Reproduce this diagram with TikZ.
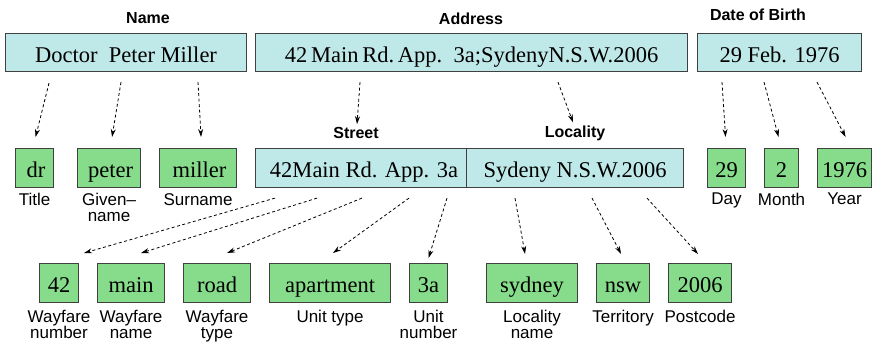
\documentclass[tikz,border=0pt]{standalone}
\usepackage{fontspec}
\setmainfont{Liberation Serif}
\setsansfont{Liberation Sans}
\usetikzlibrary{arrows.meta}
\definecolor{cyanbox}{HTML}{BFE9E8}
\definecolor{greenbox}{HTML}{86DC8A}
\definecolor{edgegray}{HTML}{404040}
\begin{document}
\begin{tikzpicture}[x=1pt,y=-1pt,
  box/.style={draw=edgegray, line width=1.1pt, anchor=north west, inner sep=0pt,
    minimum height=38pt, text height=19pt, text depth=0pt,
    font=\fontsize{22.5}{24}\selectfont},
  cbox/.style={box, fill=cyanbox},
  gbox/.style={box, fill=greenbox, minimum height=39pt},
  ttl/.style={font=\sffamily\bfseries\fontsize{16}{18}\selectfont, inner sep=0pt},
  lbl/.style={font=\sffamily\fontsize{17}{16}\selectfont, inner sep=0pt, anchor=north, align=center},
  arr/.style={line width=0.8pt, dash pattern=on 3pt off 2.5pt, -{Stealth[length=8pt,width=5pt]}}
]
\useasboundingbox (0,0) rectangle (874,345);
% top row
\node[cbox, minimum width=241pt] (name) at (5,33) {Doctor\ \ Peter Miller};
\node[cbox, minimum width=432pt] (address) at (255,33) {42\,Main\,Rd.\,App.\ \ 3a;SydenyN.S.W.2006};
\node[cbox, minimum width=164pt] (date) at (697,33) {29 Feb. 1976};
\node[ttl] (tname) at (148,18) {Name};
\node[ttl] (taddress) at (471,19) {Address};
\node[ttl] (tdate) at (758,15) {Date of Birth};
% middle row
\node[cbox, minimum width=211pt, minimum height=39pt] (street) at (255,148) {\hspace{6pt}42Main Rd. App. 3a};
\node[cbox, minimum width=217pt, minimum height=39pt] (locality) at (466,148) {Sydeny N.S.W.2006};
\node[ttl] (tstreet) at (356,133) {Street};
\node[ttl] (tlocality) at (575,133) {Locality};
\node[gbox, minimum width=38pt] (dr) at (15,148) {\hspace{3pt}dr};
\node[gbox, minimum width=63pt] (peter) at (77,148) {\hspace{3pt}peter};
\node[gbox, minimum width=77pt] (miller) at (159,148) {\hspace{3pt}miller};
\node[gbox, minimum width=38pt] (day) at (707,148) {29};
\node[gbox, minimum width=34pt] (month) at (764,148) {2};
\node[gbox, minimum width=54pt] (year) at (817,148) {1976};
\node[lbl] (ldr) at ([yshift=-5pt]dr.south) {Title};
\node[lbl] (lpeter) at ([yshift=-5pt]peter.south) {Given--\\name};
\node[lbl] (lmiller) at ([yshift=-5pt]miller.south) {Surname};
\node[lbl] (lday) at ([yshift=-5pt]day.south) {Day};
\node[lbl] (lmonth) at ([yshift=-5pt]month.south) {Month};
\node[lbl] (lyear) at ([yshift=-5pt]year.south) {Year};
% bottom row
\node[gbox, minimum width=39pt] (n42) at (39,263) {42};
\node[gbox, minimum width=67pt] (main) at (97,263) {main};
\node[gbox, minimum width=67pt] (road) at (183,263) {road};
\node[gbox, minimum width=121pt] (apt) at (269,263) {apartment};
\node[gbox, minimum width=38pt] (n3a) at (409,263) {3a};
\node[gbox, minimum width=91pt] (sydney) at (486,263) {sydney};
\node[gbox, minimum width=53pt] (nsw) at (596,263) {nsw};
\node[gbox, minimum width=63pt] (pc) at (668,263) {2006};
\node[lbl] (l42) at ([yshift=-7pt]n42.south) {Wayfare\\number};
\node[lbl] (lmain) at ([yshift=-7pt]main.south) {Wayfare\\name};
\node[lbl] (lroad) at ([yshift=-7pt]road.south) {Wayfare\\type};
\node[lbl] (lapt) at ([yshift=-7pt]apt.south) {Unit type};
\node[lbl] (l3a) at ([yshift=-7pt]n3a.south) {Unit\\number};
\node[lbl] (lsydney) at ([yshift=-7pt]sydney.south) {Locality\\name};
\node[lbl] (lnsw) at ([yshift=-7pt]nsw.south) {Territory};
\node[lbl] (lpc) at ([yshift=-7pt]pc.south) {Postcode};
% arrows from top row
\draw[arr] ([xshift=44pt,yshift=-11pt]name.south west) -- ([xshift=1pt,yshift=11pt]dr.north);
\draw[arr] ([xshift=116pt,yshift=-10pt]name.south west) -- ([xshift=3pt,yshift=11pt]peter.north);
\draw[arr] ([xshift=193pt,yshift=-10pt]name.south west) -- ([xshift=3pt,yshift=11pt]miller.north);
\draw[arr] ([xshift=105pt,yshift=-10pt]address.south west) -- ([xshift=1pt,yshift=3pt]tstreet.north);
\draw[arr] ([xshift=303pt,yshift=-10pt]address.south west) -- ([xshift=-2pt,yshift=3pt]tlocality.north);
\draw[arr] ([xshift=25pt,yshift=-10pt]date.south west) -- ([xshift=-1pt,yshift=11pt]day.north);
\draw[arr] ([xshift=67pt,yshift=-10pt]date.south west) -- ([xshift=-3pt,yshift=11pt]month.north);
\draw[arr] ([xshift=120pt,yshift=-10pt]date.south west) -- ([xshift=1pt,yshift=11pt]year.north);
% arrows from street / locality
\draw[arr] ([xshift=20pt,yshift=-10pt]street.south west) -- ([xshift=5pt,yshift=10pt]n42.north east);
\draw[arr] ([xshift=62pt,yshift=-10pt]street.south west) -- ([xshift=10pt,yshift=10pt]main.north);
\draw[arr] ([xshift=107pt,yshift=-10pt]street.south west) -- ([xshift=10pt,yshift=10pt]road.north);
\draw[arr] ([xshift=154pt,yshift=-10pt]street.south west) -- ([xshift=3pt,yshift=10pt]apt.north);
\draw[arr] ([xshift=192pt,yshift=-10pt]street.south west) -- ([xshift=0pt,yshift=5pt]n3a.north);
\draw[arr] ([xshift=49pt,yshift=-10pt]locality.south west) -- ([xshift=-7pt,yshift=9pt]sydney.north);
\draw[arr] ([xshift=126pt,yshift=-10pt]locality.south west) -- ([xshift=-2pt,yshift=9pt]nsw.north);
\draw[arr] ([xshift=181pt,yshift=-10pt]locality.south west) -- ([xshift=-2pt,yshift=9pt]pc.north);
\end{tikzpicture}
\end{document}
